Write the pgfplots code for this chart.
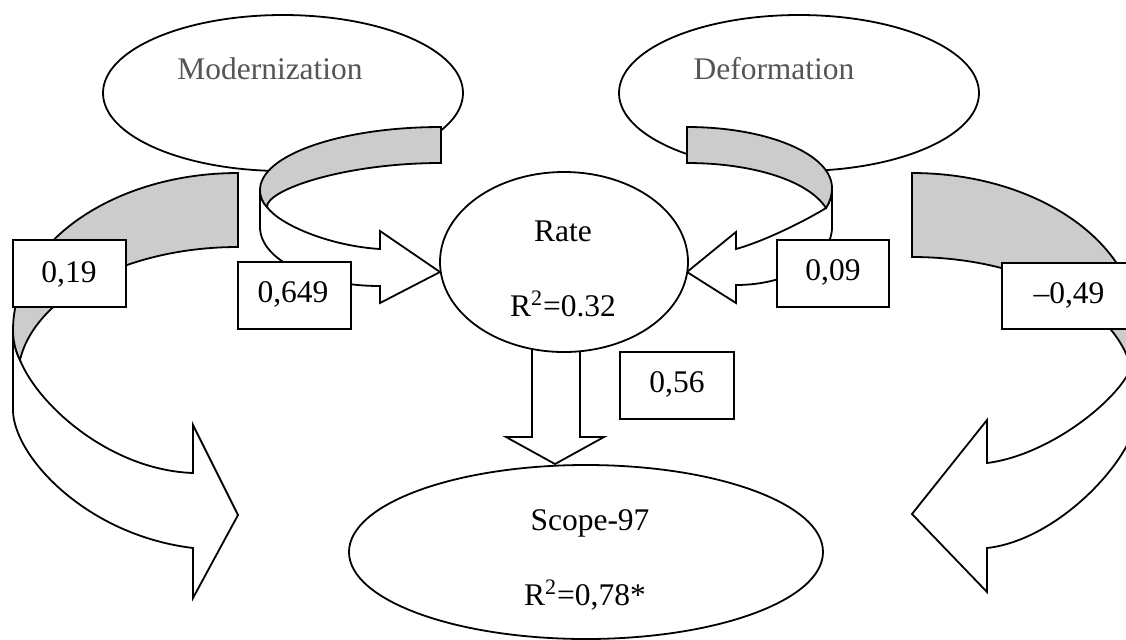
\documentclass[border=0pt]{standalone}
\usepackage{pgfplots}
\pgfplotsset{compat=1.18}
\usepackage{fontspec}
\setmainfont{Liberation Serif}
\definecolor{band}{RGB}{204,204,204}
\definecolor{txtgray}{RGB}{85,85,85}
\tikzset{sh/.style={draw=black, line width=0.9pt, line join=miter},
  lab/.style={anchor=base, inner sep=0pt, font=\fontsize{15.75}{18}\selectfont}}
\begin{document}
\begin{tikzpicture}
\begin{axis}[scale only axis, width=563pt, height=319.5pt,
  xmin=0, xmax=1126, ymin=0, ymax=639, y dir=reverse,
  axis lines=none, clip=true]
% top ellipses
\draw[sh, fill=white] (axis cs:283,93) ellipse [x radius=180, y radius=78];
\draw[sh, fill=white] (axis cs:799,93) ellipse [x radius=180, y radius=78];
\node[lab, text=txtgray] at (axis cs:270,79) {Modernization};
\node[lab, text=txtgray] at (axis cs:774,79) {Deformation};
% Scope ellipse
\draw[sh, fill=white] (axis cs:586,552) ellipse [x radius=237, y radius=87];
\node[lab] at (axis cs:590,530) {Scope-97};
\node[lab] at (axis cs:585,605) {R\textsuperscript{2}=0,78*};
% big left arrow (white part)
\draw[sh, fill=white] (axis cs:13,330) -- (axis cs:13,410)
  .. controls (axis cs:13,455) and (axis cs:85,535) .. (axis cs:193,548)
  -- (axis cs:193,598) -- (axis cs:238,515) -- (axis cs:193,425) -- (axis cs:193,473)
  .. controls (axis cs:110,470) and (axis cs:38,405) .. (axis cs:20,360)
  .. controls (axis cs:16,352) and (axis cs:13,342) .. (axis cs:13,330) -- cycle;
% big left arrow (gray part)
\draw[sh, fill=band] (axis cs:238,173)
  .. controls (axis cs:114,173) and (axis cs:13,243) .. (axis cs:13,330)
  .. controls (axis cs:13,342) and (axis cs:16,352) .. (axis cs:20,360)
  .. controls (axis cs:35,296) and (axis cs:128,247) .. (axis cs:238,247) -- cycle;
% big right arrow (white part)
\draw[sh, fill=white] (axis cs:1138,330) -- (axis cs:1138,410)
  .. controls (axis cs:1138,455) and (axis cs:1060,540) .. (axis cs:987,548)
  -- (axis cs:987,592) -- (axis cs:912,514) -- (axis cs:987,420) -- (axis cs:987,463)
  .. controls (axis cs:1050,455) and (axis cs:1118,400) .. (axis cs:1131,368)
  .. controls (axis cs:1135,352) and (axis cs:1138,342) .. (axis cs:1138,330) -- cycle;
% big right arrow (gray part)
\draw[sh, fill=band] (axis cs:912,173)
  .. controls (axis cs:1037,173) and (axis cs:1138,243) .. (axis cs:1138,330)
  .. controls (axis cs:1138,342) and (axis cs:1135,352) .. (axis cs:1131,368)
  .. controls (axis cs:1115,304) and (axis cs:1022,257) .. (axis cs:912,257) -- cycle;
% small left arrow (white part)
\draw[sh, fill=white] (axis cs:260,190) -- (axis cs:260,227)
  .. controls (axis cs:260,260) and (axis cs:314,286) .. (axis cs:380,286)
  -- (axis cs:380,303) -- (axis cs:440,272) -- (axis cs:380,231) -- (axis cs:380,249)
  .. controls (axis cs:330,246) and (axis cs:280,225) .. (axis cs:267,207)
  .. controls (axis cs:263,203) and (axis cs:260,197) .. (axis cs:260,190) -- cycle;
% small left arrow (gray part)
\draw[sh, fill=band] (axis cs:441,127)
  .. controls (axis cs:341,127) and (axis cs:260,155) .. (axis cs:260,190)
  .. controls (axis cs:260,197) and (axis cs:263,203) .. (axis cs:267,207)
  .. controls (axis cs:266,190) and (axis cs:344,163) .. (axis cs:441,163) -- cycle;
% small right arrow (white part)
\draw[sh, fill=white] (axis cs:832,188) -- (axis cs:832,227)
  .. controls (axis cs:832,259) and (axis cs:789,285) .. (axis cs:736,285)
  -- (axis cs:736,303) -- (axis cs:687,272) -- (axis cs:736,232) -- (axis cs:736,249)
  .. controls (axis cs:768,240) and (axis cs:810,218) .. (axis cs:826,208)
  .. controls (axis cs:830,202) and (axis cs:832,195) .. (axis cs:832,188) -- cycle;
% small right arrow (gray part)
\draw[sh, fill=band] (axis cs:687,127)
  .. controls (axis cs:767,127) and (axis cs:832,154) .. (axis cs:832,188)
  .. controls (axis cs:832,195) and (axis cs:830,202) .. (axis cs:826,208)
  .. controls (axis cs:808,180) and (axis cs:751,163) .. (axis cs:687,163) -- cycle;
% down arrow
\draw[sh, fill=white] (axis cs:532,340) -- (axis cs:532,437) -- (axis cs:506,437)
  -- (axis cs:555,464) -- (axis cs:604,437) -- (axis cs:580,437) -- (axis cs:580,340) -- cycle;
% Rate ellipse
\draw[sh, fill=white] (axis cs:564,262) ellipse [x radius=124, y radius=90];
\node[lab] at (axis cs:563,241) {Rate};
\node[lab] at (axis cs:563,316) {R\textsuperscript{2}=0.32};
% boxes
\draw[sh, fill=white] (axis cs:13,240) rectangle (axis cs:126,307);
\node[lab] at (axis cs:69,282) {0,19};
\draw[sh, fill=white] (axis cs:238,262) rectangle (axis cs:351,329);
\node[lab] at (axis cs:293,302) {0,649};
\draw[sh, fill=white] (axis cs:777,240) rectangle (axis cs:889,307);
\node[lab] at (axis cs:833,280) {0,09};
\draw[sh, fill=white] (axis cs:1002,263) rectangle (axis cs:1145,329);
\node[lab] at (axis cs:1069,303) {–0,49};
\draw[sh, fill=white] (axis cs:620,352) rectangle (axis cs:734,419);
\node[lab] at (axis cs:677,392) {0,56};
\end{axis}
\pgfresetboundingbox
\path[use as bounding box] (current axis.south west) rectangle (current axis.north east);
\end{tikzpicture}
\end{document}
